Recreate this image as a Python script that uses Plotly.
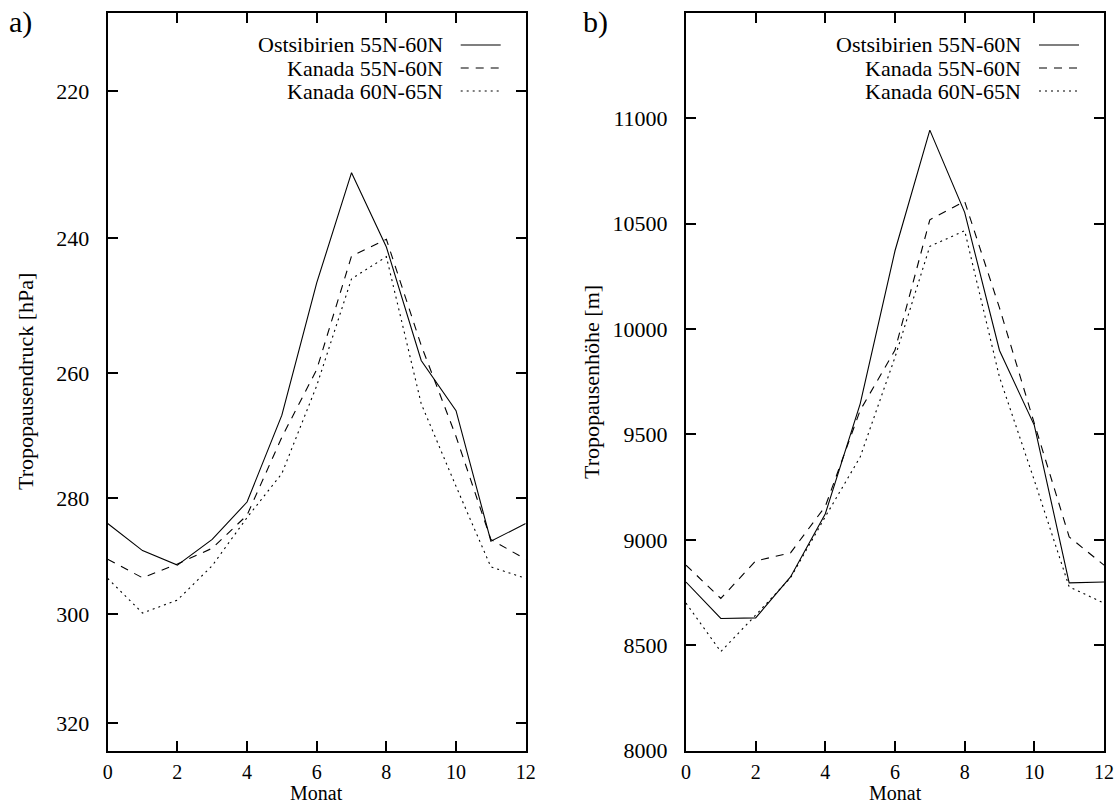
import plotly.graph_objects as go
import math

months = list(range(13))

# Panel a) Tropopausendruck [hPa]
p_ostsib_55_60 = [284.3, 288.9, 291.4, 287.0, 280.7, 266.6, 246.5, 230.9, 241.3, 258.1, 265.9, 287.3, 284.3]
p_kanada_55_60 = [290.4, 293.6, 291.2, 288.5, 282.9, 270.1, 259.5, 242.6, 240.2, 255.8, 270.0, 287.0, 290.4]
p_kanada_60_65 = [293.7, 299.8, 297.5, 291.5, 283.3, 276.0, 262.0, 245.9, 242.7, 264.8, 278.1, 291.7, 293.7]

# Panel b) Tropopausenhöhe [m]
h_ostsib_55_60 = [8800, 8627, 8630, 8824, 9124, 9645, 10371, 10943, 10553, 9898, 9543, 8796, 8800]
h_kanada_55_60 = [8880, 8722, 8900, 8938, 9159, 9614, 9900, 10518, 10605, 10100, 9552, 9014, 8880]
h_kanada_60_65 = [8700, 8470, 8643, 8820, 9110, 9393, 9866, 10392, 10466, 9771, 9282, 8777, 8700]

series_names = ["Ostsibirien 55N-60N", "Kanada 55N-60N", "Kanada 60N-65N"]
dashes = ["solid", "8px,7px", "2px,4px"]

x_ticks = [0, 2, 4, 6, 8, 10, 12]
p_ticks = [220, 240, 260, 280, 300, 320]
h_ticks = [8000, 8500, 9000, 9500, 10000, 10500, 11000]

W, H = 1117, 805
FONT = "Times New Roman, Liberation Serif, serif"
FS = 22

fig = go.Figure()
for vals, name, d in zip([p_ostsib_55_60, p_kanada_55_60, p_kanada_60_65], series_names, dashes):
    fig.add_trace(go.Scatter(x=months, y=vals, mode="lines", name=name,
                             line=dict(color="black", width=1.1, dash=d),
                             xaxis="x", yaxis="y", showlegend=False))
for vals, name, d in zip([h_ostsib_55_60, h_kanada_55_60, h_kanada_60_65], series_names, dashes):
    fig.add_trace(go.Scatter(x=months, y=vals, mode="lines", name=name,
                             line=dict(color="black", width=1.1, dash=d),
                             xaxis="x2", yaxis="y2", showlegend=False))

top = 1 - 12.7 / H
bot = 1 - 750.7 / H
xa_dom = [107.7 / W, 525.7 / W]
xb_dom = [686 / W, 1104 / W]

axis_common = dict(showline=True, linecolor="black", linewidth=2, mirror="ticks",
                   ticks="inside", ticklen=10, tickwidth=1.5, tickcolor="black",
                   showgrid=False, zeroline=False, automargin=False)
yfont = dict(family=FONT, size=FS, color="black")
xfont = dict(family=FONT, size=20, color="black")

fig.update_layout(
    width=W, height=H,
    margin=dict(l=0, r=0, t=0, b=0),
    paper_bgcolor="white", plot_bgcolor="white",
    font=dict(family=FONT, size=FS, color="black"),
    xaxis=dict(domain=xa_dom, range=[0, 12], tickvals=x_ticks, anchor="y",
               ticklabelstandoff=2, tickfont=xfont, **axis_common),
    yaxis=dict(domain=[bot, top], type="log",
               range=[math.log10(325.3), math.log10(210.0)],
               tickvals=p_ticks, ticktext=[str(t) for t in p_ticks], anchor="x",
               ticklabelstandoff=12, tickfont=yfont, **axis_common),
    xaxis2=dict(domain=xb_dom, range=[0, 12], tickvals=x_ticks, anchor="y2",
                ticklabelstandoff=2, tickfont=xfont, **axis_common),
    yaxis2=dict(domain=[bot, top], range=[8000, 11500], tickvals=h_ticks,
                ticktext=[str(t) for t in h_ticks], anchor="x2",
                ticklabelstandoff=12, tickfont=yfont, **axis_common),
)

def label(text, x, y, size=FS, angle=0, xanchor="center", yanchor="middle"):
    fig.add_annotation(text=text, x=x / W, y=1 - y / H, xref="paper", yref="paper",
                       xanchor=xanchor, yanchor=yanchor, showarrow=False, textangle=angle,
                       borderpad=0, font=dict(family=FONT, size=size, color="black"))

# axis titles
label("Monat", 316.7, 805, size=20, yanchor="bottom")
label("Monat", 895, 805, size=20, yanchor="bottom")
label("Tropopausendruck [hPa]", 25, 382, angle=-90)
label("Tropopausenhöhe [m]", 591, 382, angle=-90)

# panel labels
label("a)", 8, 22, size=30, xanchor="left")
label("b)", 582, 22, size=30, xanchor="left")

# gnuplot-style keys (text right, line sample on the right)
rows_y = [45, 68, 91]
for panel_right in [525.7, 1104]:
    text_right = panel_right - 82
    s0, s1 = panel_right - 65, panel_right - 25
    for name, d, yy in zip(series_names, dashes, rows_y):
        label(name, text_right, yy, xanchor="right")
        fig.add_shape(type="line", xref="paper", yref="paper",
                      x0=s0 / W, x1=s1 / W, y0=1 - yy / H, y1=1 - yy / H,
                      line=dict(color="black", width=1.1, dash=d))

fig.write_html("out.html", config={"displayModeBar": False},
               post_script="document.body.style.margin='0';document.body.style.overflow='hidden';")
